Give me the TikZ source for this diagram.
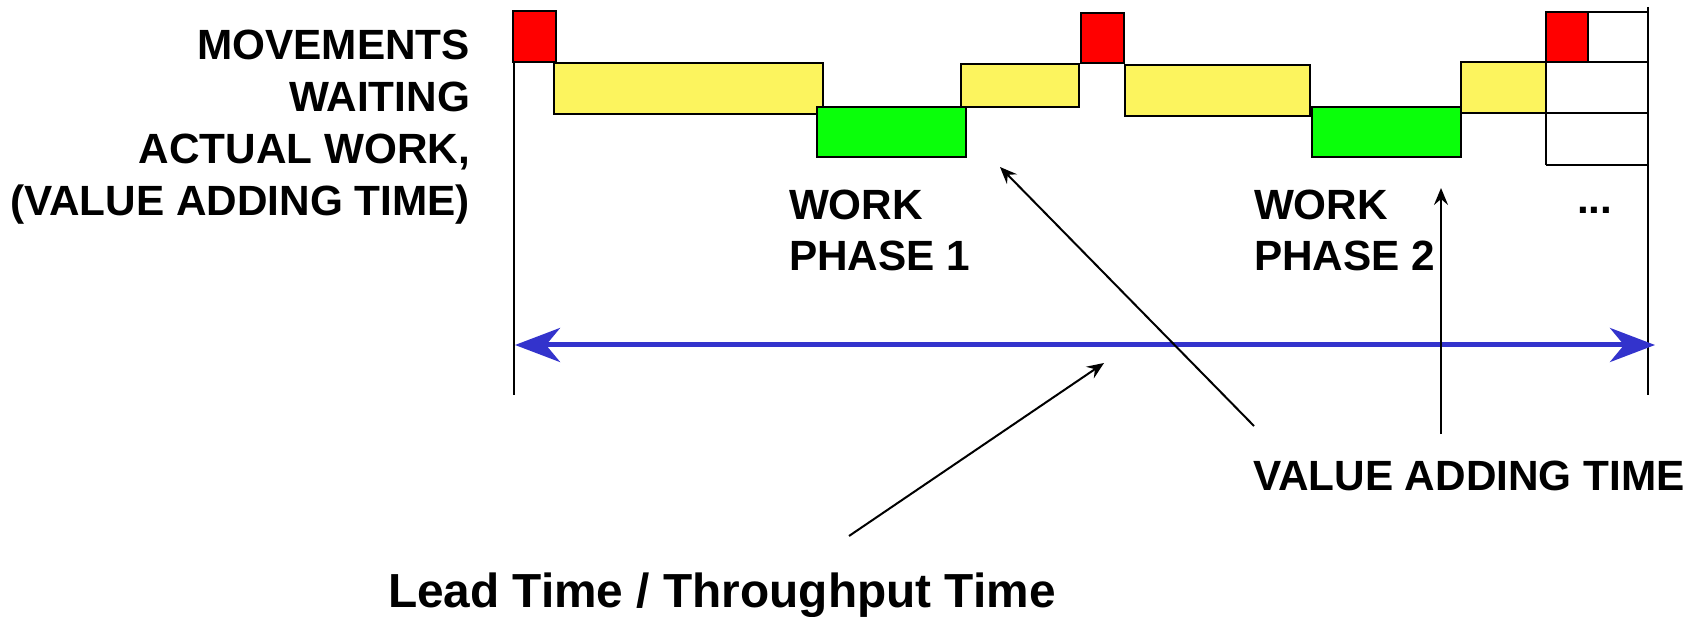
\documentclass[tikz,border=0pt]{standalone}
\usepackage{fontspec}
\setmainfont{Liberation Sans}
\usetikzlibrary{arrows.meta}
\definecolor{myred}{RGB}{255,0,0}
\definecolor{myyellow}{RGB}{252,244,94}
\definecolor{mygreen}{RGB}{10,255,10}
\definecolor{myblue}{RGB}{51,51,204}
\begin{document}
\begin{tikzpicture}[x=1pt,y=-1pt,
  box/.style={draw=black, line width=2.5pt},
  lbl/.style={font=\bfseries\fontsize{42.3}{50}\selectfont, inner sep=0pt, outer sep=0pt},
  leadlbl/.style={font=\bfseries\fontsize{47.8}{56}\selectfont, inner sep=0pt, outer sep=0pt},
  thinline/.style={line width=2pt},
  ptr/.style={line width=2pt, -{Stealth[length=17pt,width=14pt,inset=6pt]}},
  spanarrow/.style={draw=myblue, line width=5pt, {Stealth[length=45pt,width=34pt,inset=14pt]}-{Stealth[length=45pt,width=34pt,inset=14pt]}}]
\useasboundingbox (0,0) rectangle (1702,617);

% left labels
\node[lbl, anchor=base east] (mov) at (470,60) {MOVEMENTS};
\node[lbl, anchor=base east] (wait) at (470,112) {WAITING};
\node[lbl, anchor=base east] (act) at (470,164) {ACTUAL WORK,};
\node[lbl, anchor=base east] (vat) at (470,216) {(VALUE ADDING TIME)};

% time frame lines
\draw[thinline] (514,62) -- (514,395);
\draw[thinline] (1648,7) -- (1648,395);

% empty grid at right
\draw[thinline] (1546,12) -- (1648,12);
\draw[thinline] (1588,62) -- (1648,62);
\draw[thinline] (1546,113) -- (1648,113);
\draw[thinline] (1546,165) -- (1648,165);
\draw[thinline] (1546,12) -- (1546,165);

% phase 1
\draw[box, fill=myred] (513,11) rectangle (556,62);
\draw[box, fill=myyellow] (554,63) rectangle (823,114);
\draw[box, fill=myyellow] (961,64) rectangle (1079,107);
\draw[box, fill=mygreen] (817,107) rectangle (966,157);
% phase 2
\draw[box, fill=myred] (1081,13) rectangle (1124,63);
\draw[box, fill=myyellow] (1125,65) rectangle (1310,116);
\draw[box, fill=myyellow] (1461,62) rectangle (1546,113);
\draw[box, fill=mygreen] (1312,107) rectangle (1461,157);
% phase 3
\draw[box, fill=myred] (1546,12) rectangle (1588,62);

% phase labels
\node[lbl, anchor=base west] (w1) at (789,220) {WORK};
\node[lbl, anchor=base west] (p1) at (789,271) {PHASE 1};
\node[lbl, anchor=base west] (w2) at (1254,220) {WORK};
\node[lbl, anchor=base west] (p2) at (1254,271) {PHASE 2};
\node[lbl, anchor=base west] (dots) at (1577,214) {...};

% lead time arrow
\coordinate (ls) at (515,345);
\coordinate (le) at (1655,345);
\draw[spanarrow] (ls) -- (le);

% bottom labels
\node[lbl, anchor=base west] (vadd) at (1253,490) {VALUE ADDING TIME};
\node[leadlbl, anchor=base west] (lead) at (388,607) {Lead Time / Throughput Time};

% pointers
\coordinate (a1s) at (1254,426);
\coordinate (a1e) at (1000,167);
\coordinate (a2s) at (849,536);
\coordinate (a2e) at (1104,363);
\coordinate (a3s) at (1441,434);
\coordinate (a3e) at (1441,188);
\draw[ptr] (a1s) -- (a1e);
\draw[ptr] (a2s) -- (a2e);
\draw[ptr] (a3s) -- (a3e);
\end{tikzpicture}
\end{document}
